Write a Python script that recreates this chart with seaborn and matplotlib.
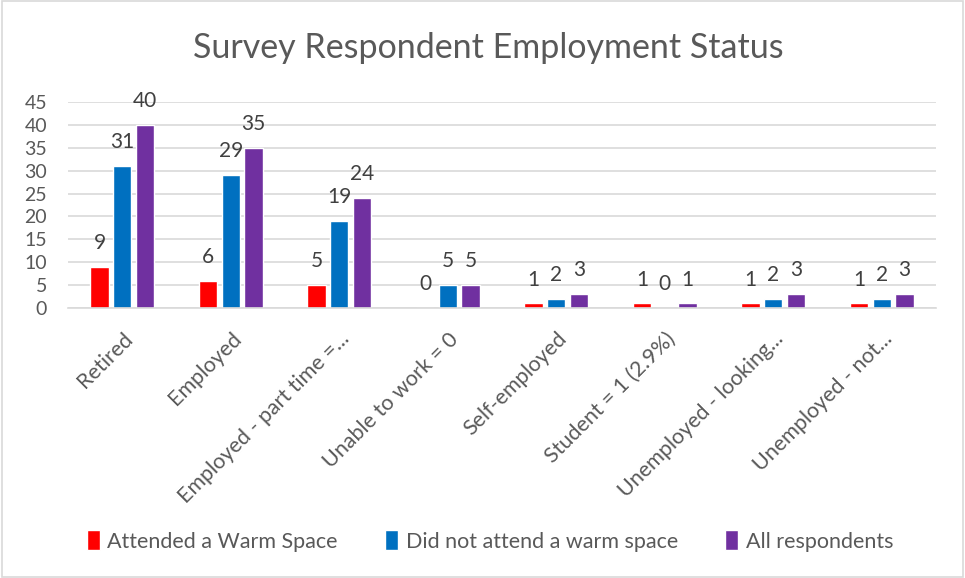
import numpy as np
import matplotlib.pyplot as plt
import pandas as pd
import seaborn as sns
from matplotlib.patches import Rectangle

# Chart data
categories = ["Retired", "Employed", "Employed - part time =...", "Unable to work = 0",
              "Self-employed", "Student = 1 (2.9%)", "Unemployed - looking...", "Unemployed - not..."]
series_names = ["Attended a Warm Space", "Did not attend a warm space", "All respondents"]
attended = [9, 6, 5, 0, 1, 1, 1, 1]
not_attended = [31, 29, 19, 5, 2, 0, 2, 2]
all_respondents = [40, 35, 24, 5, 3, 1, 3, 3]
bar_colors = ["#FF0000", "#0070C0", "#7030A0"]
y_ticks = list(range(0, 50, 5))

# long-form table for seaborn
df = pd.DataFrame({
    "Status": categories * 3,
    "Group": [series_names[0]] * 8 + [series_names[1]] * 8 + [series_names[2]] * 8,
    "Count": attended + not_attended + all_respondents,
})

sns.set_style("white")
plt.rcParams['font.family'] = ['Lato', 'DejaVu Sans']
text_grey = "#595959"

fig = plt.figure(figsize=(9.65, 5.78), dpi=100)
ax = fig.add_axes([68 / 965, 1 - 308 / 578, (936 - 68) / 965, (308 - 102) / 578])

sns.barplot(data=df, x="Status", y="Count", hue="Group", order=categories,
            hue_order=series_names, palette=bar_colors, width=0.63, gap=0.2,
            saturation=1, ax=ax)

for cont in ax.containers:
    ax.bar_label(cont, padding=10, fontsize=15, color="#404040")

ax.set_ylim(0, 45)
ax.set_yticks(y_ticks)
ax.set_xlim(-0.5, len(categories) - 0.5)
ax.yaxis.grid(True, color="#D9D9D9", linewidth=1.2)
ax.set_axisbelow(True)
for s in ["top", "right", "left"]:
    ax.spines[s].set_visible(False)
ax.spines["bottom"].set_color("#D9D9D9")
ax.spines["bottom"].set_linewidth(1.2)
ax.set_xlabel("")
ax.set_ylabel("")
ax.tick_params(axis="y", length=0, pad=15, labelsize=14, labelcolor=text_grey)
ax.tick_params(axis="x", length=0, pad=15, labelsize=15.5, labelcolor=text_grey)
plt.setp(ax.get_xticklabels(), rotation=45, ha="right", va="top", rotation_mode="anchor")
for lbl in ax.get_yticklabels():
    lbl.set_horizontalalignment("right")

sns.move_legend(ax, "center", bbox_to_anchor=(490 / 965, 1 - 541 / 578),
                bbox_transform=fig.transFigure, ncol=3, frameon=False, title=None,
                fontsize=15.5, handlelength=0.6, handleheight=1.0, handletextpad=0.35,
                columnspacing=2.2, labelcolor=text_grey)

fig.text(488 / 965, 1 - 48 / 578, "Survey Respondent Employment Status",
         ha="center", va="center", fontsize=24.5, color=text_grey)

# thin grey frame round the chart like the original export
fig.patches.append(Rectangle((0.002, 0.002), 0.996, 0.996, transform=fig.transFigure,
                             fill=False, edgecolor="#D9D9D9", linewidth=1.2))

fig.savefig("out.png", dpi=100)
